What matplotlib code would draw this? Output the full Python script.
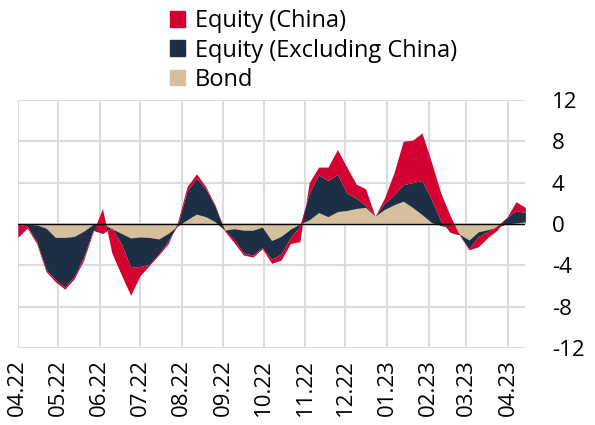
import numpy as np
import pandas as pd
import matplotlib
matplotlib.use("Agg")
import matplotlib.pyplot as plt
from matplotlib.patches import Patch

plt.rcParams['font.family'] = ['Open Sans', 'DejaVu Sans']
plt.rcParams['axes.unicode_minus'] = False

# weekly observations
dates = pd.date_range("2022-04-01", periods=55, freq="7D")

# cumulative levels: bond, bond + equity ex China, total
bond = [0, -0.05, -0.08, -0.4, -1.3, -1.3, -1.2, -0.7, -0.05, 0,
        -0.45, -0.9, -1.35, -1.25, -1.3, -1.45, -0.9, -0.2, 0.4, 0.95,
        0.7, 0.2, -0.6, -0.45, -0.6, -0.6, -0.3, -1.6, -1.2, -0.5,
        0, 0.4, 1.1, 0.7, 1.2, 1.3, 1.5, 1.6, 0.75, 1.4,
        1.85, 2.2, 1.6, 0.9, 0.15, -0.15, -0.35, -1.0, -1.55, -0.75,
        -0.55, -0.3, 0, 0.1, 0.2]
bond_eq = [0, -0.2, -1.7, -4.4, -5.4, -6.1, -5.1, -3.2, -0.6, -0.9,
           -0.4, -1.9, -4.2, -4.1, -3.9, -2.9, -1.6, -0.1, 3.2, 4.4,
           3.4, 1.7, -0.6, -1.5, -2.8, -3.0, -2.3, -3.4, -2.9, -1.3,
           -0.25, 3.0, 4.75, 4.2, 4.8, 3.0, 2.5, 1.8, 0.75, 2.0,
           2.8, 3.8, 4.0, 4.2, 2.4, 0.3, -0.8, -1.05, -2.4, -1.2,
           -0.75, -0.2, 0.6, 1.3, 1.1]
total = [-1.3, -0.4, -1.9, -4.6, -5.6, -6.3, -5.3, -3.5, -0.8, 1.5,
         -2.8, -4.9, -6.9, -5.0, -4.0, -3.0, -1.9, 0.2, 3.6, 4.85,
         3.6, 1.8, -0.7, -1.8, -3.0, -3.2, -2.4, -3.8, -3.5, -1.9,
         -1.7, 4.0, 5.5, 5.5, 7.2, 5.5, 3.85, 3.4, 0.75, 2.5,
         4.9, 8.0, 8.1, 8.8, 6.0, 3.0, 0.8, -1.1, -2.5, -2.2,
         -1.3, -0.6, 0.6, 2.15, 1.6]

# flows per category (stacked in this order)
flow_bond = np.array(bond)
flow_eq_ex = np.array(bond_eq) - np.array(bond)
flow_china = np.array(total) - np.array(bond_eq)

tick_dates = pd.date_range("2022-04-01", "2023-04-01", freq="MS")
tick_labels = [d.strftime("%m.%y") for d in tick_dates]

c_china = "#d50032"
c_ex = "#1d2f45"
c_bond = "#d5bf9c"

fig = plt.figure(figsize=(5.95, 4.25), dpi=100)
ax = fig.add_axes([0.03, 0.181, 0.853, 0.584])

lvl1 = flow_bond
lvl2 = lvl1 + flow_eq_ex
lvl3 = lvl2 + flow_china
ax.fill_between(dates, 0, lvl1, color=c_bond, lw=0, zorder=2)
ax.fill_between(dates, lvl1, lvl2, color=c_ex, lw=0, zorder=3)
ax.fill_between(dates, lvl2, lvl3, color=c_china, lw=0, zorder=4)
ax.axhline(0, color="black", lw=1, zorder=5)

ax.set_ylim(-12, 12)
ax.set_yticks(np.arange(-12, 13, 4))
ax.set_xlim(dates[0], dates[-1])
ax.set_xticks(tick_dates)
ax.set_xticklabels(tick_labels, rotation=90)
ax.yaxis.tick_right()
for lab in ax.get_yticklabels():
    lab.set_horizontalalignment("left")
ax.tick_params(axis="y", length=0, pad=19, labelsize=16)
ax.tick_params(axis="x", length=0, pad=8, labelsize=16)
ax.grid(True, color="#dcdcdc", lw=1.5, zorder=0)
ax.set_axisbelow(True)
for s in ax.spines.values():
    s.set_visible(False)

handles = [Patch(color=c_china, label="Equity (China)"),
           Patch(color=c_ex, label="Equity (Excluding China)"),
           Patch(color=c_bond, label="Bond")]
fig.legend(handles=handles, loc="upper left", bbox_to_anchor=(0.27, 1.0),
           frameon=False, fontsize=17, handlelength=0.65, handleheight=0.65,
           handletextpad=0.4, labelspacing=0.22, borderaxespad=0)

fig.savefig("out.png", dpi=100)
